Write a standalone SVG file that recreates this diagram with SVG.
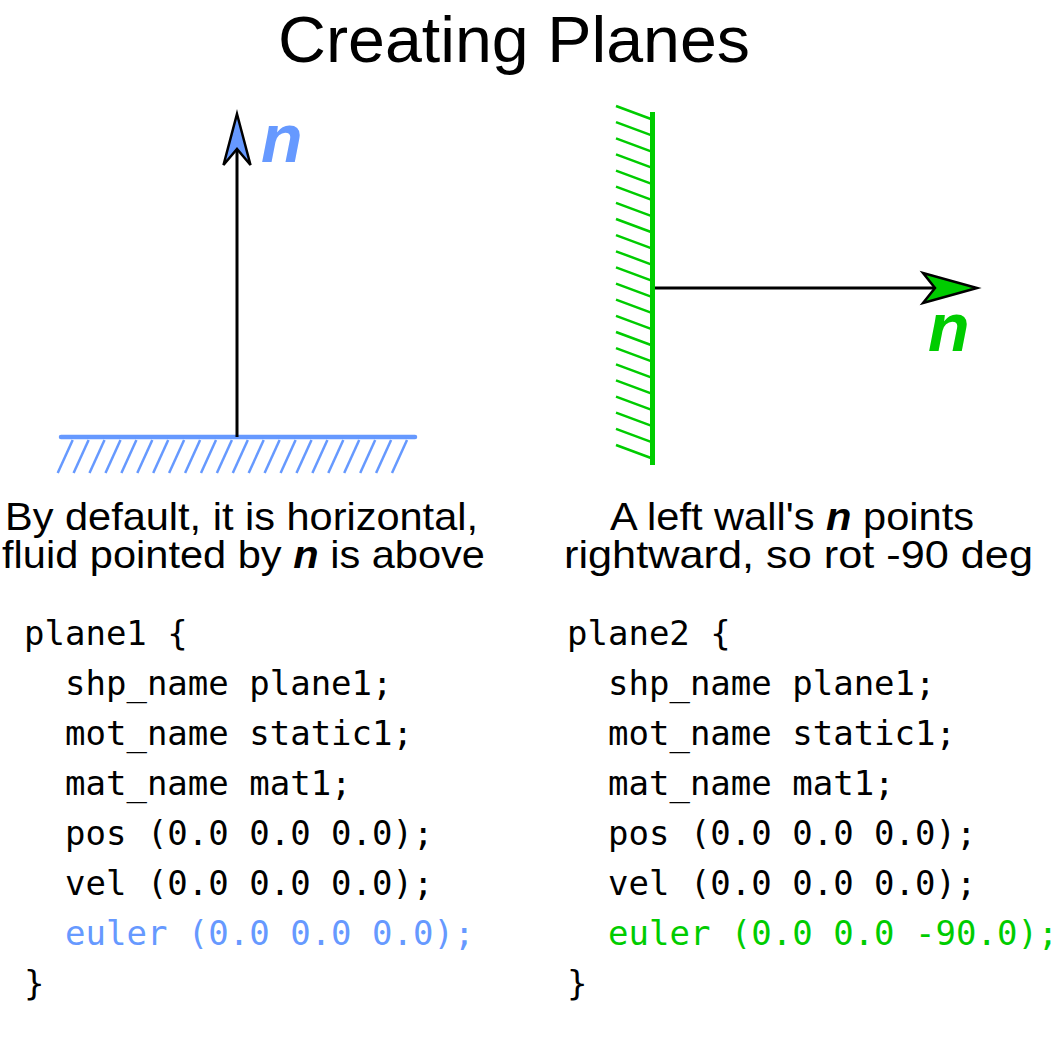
<svg xmlns="http://www.w3.org/2000/svg" width="1063" height="1063" viewBox="0 0 1063 1063">
<style>
.sans{font-family:"Liberation Sans",Arial,sans-serif;fill:#000}
.title{font-size:64px}
.cap{font-size:39px}
.n{font-weight:bold;font-style:italic}
.lbl{font-family:"Liberation Sans",Arial,sans-serif;font-size:68px;font-weight:bold;font-style:italic}
.code{font-family:"DejaVu Sans Mono","Liberation Mono",monospace;font-size:34px;fill:#000}
.blue{fill:#6699ff}
.green{fill:#00cc00}
.vec{stroke:#000;stroke-width:3;fill:none}
.head{stroke:#000;stroke-width:2.5;stroke-linejoin:miter}
.hatchB{stroke:#6699ff;stroke-width:2.5}
.hatchG{stroke:#00cc00;stroke-width:2.5}
</style>
<rect width="1063" height="1063" fill="#fff"/>
<text class="sans title" x="514" y="62" text-anchor="middle" textLength="472" lengthAdjust="spacingAndGlyphs">Creating Planes</text>

<g id="floor-plane">
<line x1="61" y1="437" x2="415" y2="437" stroke="#6699ff" stroke-width="4.5" stroke-linecap="round"/>
<g class="hatchB">
<line x1="72.7" y1="440" x2="57.7" y2="473"/>
<line x1="88.6" y1="440" x2="73.6" y2="473"/>
<line x1="104.5" y1="440" x2="89.5" y2="473"/>
<line x1="120.5" y1="440" x2="105.5" y2="473"/>
<line x1="136.4" y1="440" x2="121.4" y2="473"/>
<line x1="152.3" y1="440" x2="137.3" y2="473"/>
<line x1="168.2" y1="440" x2="153.2" y2="473"/>
<line x1="184.1" y1="440" x2="169.1" y2="473"/>
<line x1="200.1" y1="440" x2="185.1" y2="473"/>
<line x1="216.0" y1="440" x2="201.0" y2="473"/>
<line x1="231.9" y1="440" x2="216.9" y2="473"/>
<line x1="247.8" y1="440" x2="232.8" y2="473"/>
<line x1="263.7" y1="440" x2="248.7" y2="473"/>
<line x1="279.6" y1="440" x2="264.6" y2="473"/>
<line x1="295.6" y1="440" x2="280.6" y2="473"/>
<line x1="311.5" y1="440" x2="296.5" y2="473"/>
<line x1="327.4" y1="440" x2="312.4" y2="473"/>
<line x1="343.3" y1="440" x2="328.3" y2="473"/>
<line x1="359.2" y1="440" x2="344.2" y2="473"/>
<line x1="375.2" y1="440" x2="360.2" y2="473"/>
<line x1="391.1" y1="440" x2="376.1" y2="473"/>
<line x1="407.0" y1="440" x2="392.0" y2="473"/>
</g>
</g>

<g id="wall-plane">
<line x1="652.5" y1="112" x2="652.5" y2="465" stroke="#00cc00" stroke-width="5"/>
<g class="hatchG">
<line x1="616" y1="106.0" x2="651" y2="119.0"/>
<line x1="616" y1="122.1" x2="651" y2="135.1"/>
<line x1="616" y1="138.3" x2="651" y2="151.3"/>
<line x1="616" y1="154.4" x2="651" y2="167.4"/>
<line x1="616" y1="170.6" x2="651" y2="183.6"/>
<line x1="616" y1="186.7" x2="651" y2="199.7"/>
<line x1="616" y1="202.9" x2="651" y2="215.9"/>
<line x1="616" y1="219.0" x2="651" y2="232.0"/>
<line x1="616" y1="235.1" x2="651" y2="248.1"/>
<line x1="616" y1="251.3" x2="651" y2="264.3"/>
<line x1="616" y1="267.4" x2="651" y2="280.4"/>
<line x1="616" y1="283.6" x2="651" y2="296.6"/>
<line x1="616" y1="299.7" x2="651" y2="312.7"/>
<line x1="616" y1="315.9" x2="651" y2="328.9"/>
<line x1="616" y1="332.0" x2="651" y2="345.0"/>
<line x1="616" y1="348.1" x2="651" y2="361.1"/>
<line x1="616" y1="364.3" x2="651" y2="377.3"/>
<line x1="616" y1="380.4" x2="651" y2="393.4"/>
<line x1="616" y1="396.6" x2="651" y2="409.6"/>
<line x1="616" y1="412.7" x2="651" y2="425.7"/>
<line x1="616" y1="428.9" x2="651" y2="441.9"/>
<line x1="616" y1="445.0" x2="651" y2="458.0"/>
</g>
</g>

<g id="connectors">
<line class="vec" x1="237" y1="437" x2="237" y2="150"/>
<path class="head blue" d="M237,114 L250.5,165 L237,149 L223.5,165 Z"/>
<line class="vec" x1="655" y1="288" x2="936" y2="288"/>
<path class="head green" d="M977,288 L923,303 L935,288 L923,273 Z"/>
</g>

<g id="normal-labels">
<text class="lbl blue" x="261" y="162">n</text>
<text class="lbl green" x="928" y="351">n</text>
</g>

<g id="captions">
<text class="sans cap" x="5" y="530" textLength="473" lengthAdjust="spacingAndGlyphs">By default, it is horizontal,</text>
<text class="sans cap" x="2" y="568" textLength="483" lengthAdjust="spacingAndGlyphs">fluid pointed by <tspan class="n">n</tspan> is above</text>
<text class="sans cap" x="610" y="530" textLength="364" lengthAdjust="spacingAndGlyphs">A left wall's <tspan class="n">n</tspan> points</text>
<text class="sans cap" x="564" y="568" textLength="469" lengthAdjust="spacingAndGlyphs">rightward, so rot -90 deg</text>
</g>

<g id="code-left" class="code">
<text x="24" y="645">plane1 {</text>
<text x="65" y="695">shp_name plane1;</text>
<text x="65" y="745">mot_name static1;</text>
<text x="65" y="795">mat_name mat1;</text>
<text x="65" y="845">pos (0.0 0.0 0.0);</text>
<text x="65" y="895">vel (0.0 0.0 0.0);</text>
<text x="65" y="945" class="blue">euler (0.0 0.0 0.0);</text>
<text x="24" y="995">}</text>
</g>

<g id="code-right" class="code">
<text x="567" y="645">plane2 {</text>
<text x="608" y="695">shp_name plane1;</text>
<text x="608" y="745">mot_name static1;</text>
<text x="608" y="795">mat_name mat1;</text>
<text x="608" y="845">pos (0.0 0.0 0.0);</text>
<text x="608" y="895">vel (0.0 0.0 0.0);</text>
<text x="608" y="945" class="green">euler (0.0 0.0 -90.0);</text>
<text x="567" y="995">}</text>
</g>
</svg>
